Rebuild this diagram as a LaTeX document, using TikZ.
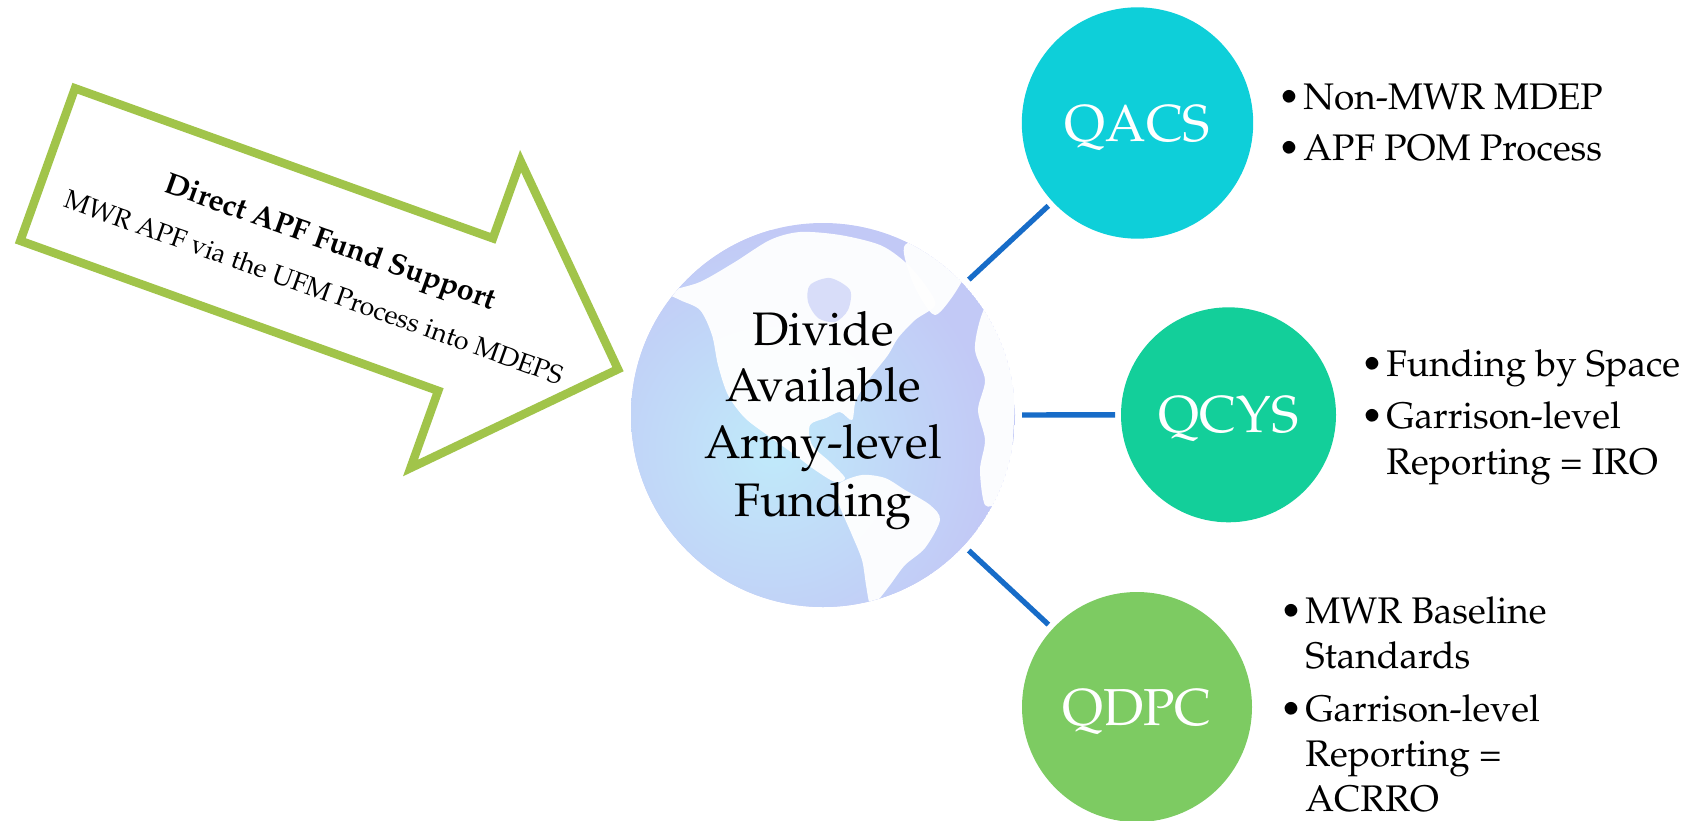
\documentclass[tikz,border=0pt]{standalone}
\usepackage[T1]{fontenc}
\usepackage{mathpazo}
\definecolor{arrowgreen}{RGB}{161,196,74}
\definecolor{linkblue}{RGB}{23,108,200}
\definecolor{cqacs}{RGB}{14,207,217}
\definecolor{cqcys}{RGB}{19,207,154}
\definecolor{cqdpc}{RGB}{125,203,98}
\definecolor{globeouter}{RGB}{194,201,246}
\definecolor{globeinner}{RGB}{192,234,250}
\begin{document}
\begin{tikzpicture}[x=0.5pt,y=-0.5pt,
  hub/.style={circle, inner sep=0pt, outer sep=0pt, text=white,
    font=\fontsize{26pt}{30pt}\selectfont, text height=18pt, text depth=0pt},
  item/.style={anchor=base west, inner sep=0pt, font=\fontsize{18.5pt}{22pt}\selectfont},
  gtext/.style={anchor=base, inner sep=0pt, font=\fontsize{23.5pt}{28pt}\selectfont},
  link/.style={draw=linkblue, line width=2.65pt, shorten <=3.5pt, shorten >=3pt},
  atext/.style={anchor=base, inner sep=0pt, rotate=-19.74},
  land/.style={white, opacity=0.95}]

\useasboundingbox (0,0) rectangle (1686,820);

% block arrow
\coordinate (a1) at (75,88.3);
\coordinate (a2) at (492.9,238.3);
\coordinate (a3) at (520.6,161.1);
\coordinate (a4) at (618,369.2);
\coordinate (a5) at (410.5,468);
\coordinate (a6) at (438.2,390.8);
\coordinate (a7) at (20.3,240.8);
\draw[arrowgreen, line width=4.25pt, fill=white, line join=miter, miter limit=10]
  (a1) -- (a2) -- (a3) -- (a4) -- (a5) -- (a6) -- (a7) -- cycle;
\node[atext] (atxt) at (327,250.5) {\vtop{\baselineskip=24pt\lineskiplimit=-\maxdimen
  \halign{\hfil#\hfil\cr
    {\fontsize{15pt}{18pt}\selectfont\bfseries Direct APF Fund Support}\cr
    {\fontsize{13.3pt}{16pt}\selectfont MWR APF via the UFM Process into MDEPS}\cr}}};

% globe
\begin{scope}
  \clip (823,415) circle[radius=96pt];
  \fill[globeouter] (823,415) circle[radius=96pt];
  \shade[inner color=globeinner, outer color=globeouter] (772,450) circle[radius=110pt];
  \fill[land] plot[smooth cycle, tension=0.5] coordinates {
    (668,292) (700,282) (735,262) (770,240) (800,232) (840,235) (880,245) (905,262)
    (925,285) (935,305) (915,320) (898,338) (888,355) (870,378) (856,400) (852,420)
    (840,412) (826,418) (810,425) (812,445) (830,462) (845,478) (835,482) (815,470)
    (795,455) (770,437) (745,418) (728,395) (718,365) (712,335) (700,310) (680,300)};
  \fill[globeouter, opacity=0.6] plot[smooth cycle, tension=0.5] coordinates {
    (810,285) (830,278) (850,290) (848,310) (835,322) (818,318) (808,302)};
  \fill[land] plot[smooth cycle, tension=0.5] coordinates {
    (905,245) (940,238) (970,250) (965,275) (950,300) (935,315) (922,300) (910,275)};
  \fill[land] plot[smooth cycle, tension=0.5] coordinates {
    (840,483) (862,475) (885,478) (905,490) (930,505) (940,520) (925,548) (905,565)
    (890,585) (878,600) (870,604) (866,585) (862,560) (852,535) (842,512) (836,495)};
  \fill[land] plot[smooth cycle, tension=0.5] coordinates {
    (990,300) (1005,310) (1015,340) (1015,380) (1014,420) (1010,470) (1000,500)
    (985,505) (980,470) (985,440) (978,410) (985,380) (975,350) (980,320)};
\end{scope}
\node[circle, minimum size=192pt, inner sep=0pt, outer sep=0pt] (globe) at (823,415) {};

\node[gtext] (g1) at (823,345) {Divide};
\node[gtext] (g2) at (823,401.7) {Available};
\node[gtext] (g3) at (823,458.3) {Army-level};
\node[gtext] (g4) at (823,516.7) {Funding};

% hubs
\node[hub, fill=cqacs, minimum size=115.7pt] (qacs) at (1137.5,123) {QACS};
\node[hub, fill=cqcys, minimum size=107.5pt] (qcys) at (1228.5,414.8) {QCYS};
\node[hub, fill=cqdpc, minimum size=115pt] (qdpc) at (1137,707) {QDPC};

\draw[link] (globe) -- (qacs);
\draw[link] (globe) -- (qcys);
\draw[link] (globe) -- (qdpc);

% bullet lists
\node[item] (i1) at (1303,109.3) {\llap{\textbullet\hspace{1.5pt}}Non-MWR MDEP};
\node[item] (i2) at (1303,160.7) {\llap{\textbullet\hspace{1.5pt}}APF POM Process};
\node[item] (i3) at (1386,376.7) {\llap{\textbullet\hspace{1.5pt}}Funding by Space};
\node[item] (i4) at (1386,428.3) {\llap{\textbullet\hspace{1.5pt}}Garrison-level};
\node[item] (i5) at (1386,474.9) {Reporting = IRO};
\node[item] (i6) at (1305,623.3) {\llap{\textbullet\hspace{1.5pt}}MWR Baseline};
\node[item] (i7) at (1305,668.3) {Standards};
\node[item] (i8) at (1305,721.7) {\llap{\textbullet\hspace{1.5pt}}Garrison-level};
\node[item] (i9) at (1305,766.5) {Reporting =};
\node[item] (i10) at (1305,811) {ACRRO};
\end{tikzpicture}
\end{document}
